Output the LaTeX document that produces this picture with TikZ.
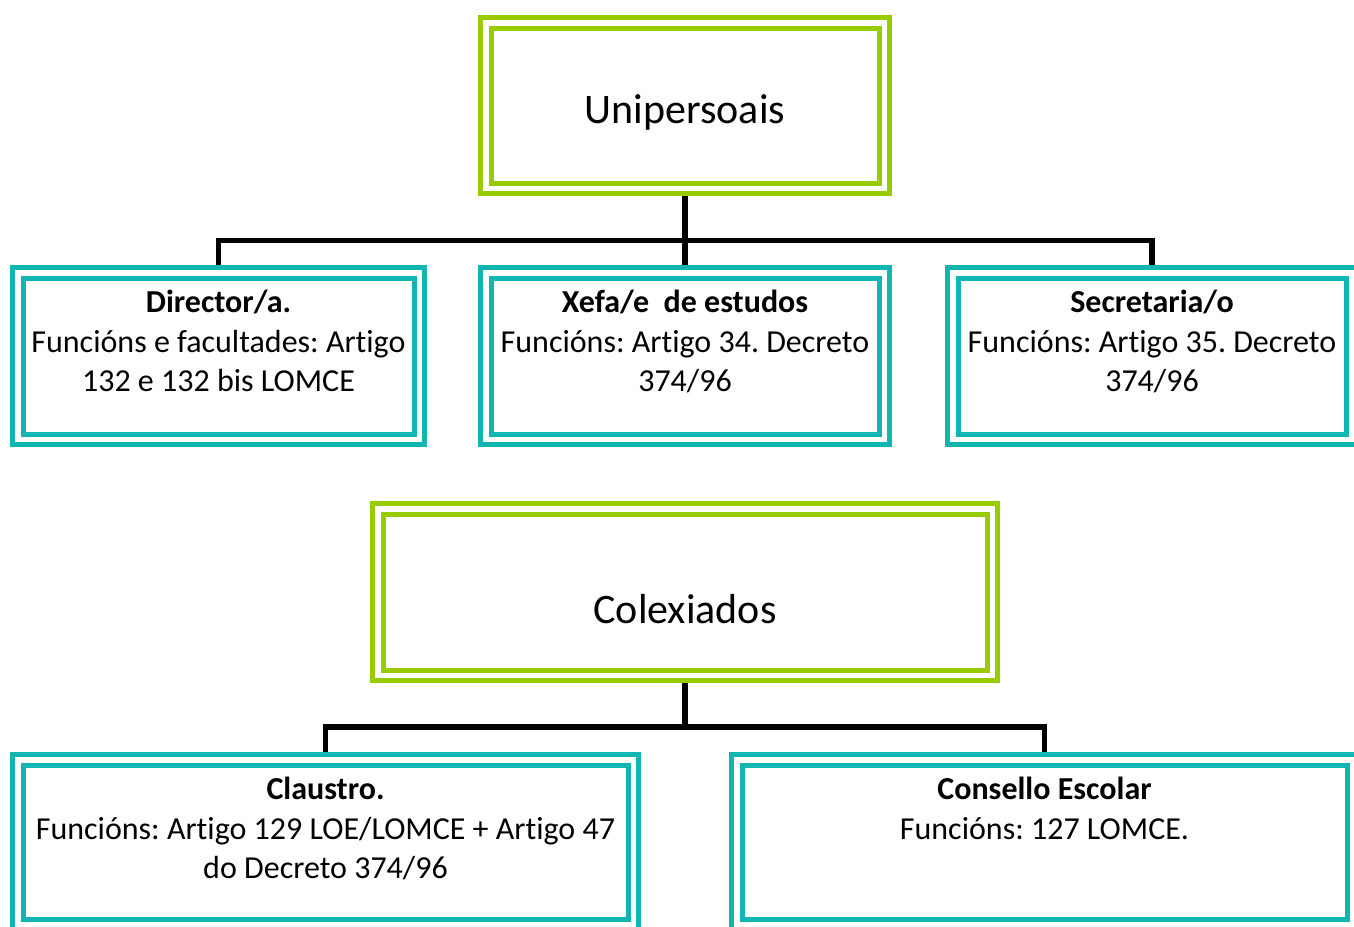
\documentclass[tikz,border=0pt]{standalone}
\usepackage{fontspec}
\setmainfont{Carlito}[Ligatures=NoCommon]
\usetikzlibrary{positioning}
\definecolor{lineGreen}{HTML}{99CC00}
\definecolor{lineTeal}{HTML}{12B6B0}

\begin{document}
\frenchspacing
\begin{tikzpicture}[
    x=1pt, y=-1pt,
    box/.style={
        draw, double=white, double distance=5.5pt, line width=5pt,
        inner sep=0pt, outer sep=7.75pt
    },
    headBox/.style={box, draw=lineGreen, minimum height=165.5pt},
    roleBox/.style={box, draw=lineTeal, minimum height=166.5pt},
    headText/.style={font=\fontsize{42}{50}\selectfont, anchor=base},
    roleText/.style={align=center, inner sep=0pt, font=\fontsize{32}{39.5}\selectfont},
    link/.style={line width=5.5pt}
]

\useasboundingbox (0,0) rectangle (1354,926);

\node[headBox, minimum width=398.5pt] (uni) at (685,105.5) {};
\node[roleBox, minimum width=401.5pt] (dir) at (218.5,356) {};
\node[roleBox, minimum width=398.5pt] (xefa) at (685,356) {};
\node[roleBox, minimum width=398.5pt] (sec) at (1152,356) {};

\node[headBox, minimum width=614.5pt, minimum height=166.5pt] (colex) at (685,592) {};
\node[roleBox, minimum width=615.5pt, minimum height=165pt] (claus) at (325.5,842.25) {};
\node[roleBox, minimum width=615.5pt, minimum height=165pt] (cons) at (1044.5,842.25) {};

\node[headText] (uniText) at (685,123.5) {Unipersoais};
\node[headText] (colexText) at (685,623) {Colexiados};

\node[roleText, below=20pt of dir.north] (dirText) {\strut\textbf{Director/a.}\\Funcións e facultades: Artigo\\132 e 132 bis LOMCE};
\node[roleText, below=20pt of xefa.north] (xefaText) {\strut\textbf{Xefa/e~ de estudos}\\Funcións: Artigo 34. Decreto\\374/96};
\node[roleText, below=20pt of sec.north] (secText) {\strut\textbf{Secretaria/o}\\Funcións: Artigo 35. Decreto\\374/96};
\node[roleText, below=20pt of claus.north] (clausText) {\strut\textbf{Claustro.}\\Funcións: Artigo 129 LOE/LOMCE + Artigo 47\\do Decreto 374/96};
\node[roleText, below=20pt of cons.north] (consText) {\strut\textbf{Consello Escolar}\\Funcións: 127 LOMCE.};

\coordinate (topBus) at (685,240.5);
\draw[link] (uni) -- (xefa);
\draw[link] (dir.north) |- (topBus) -| (sec.north);

\coordinate (lowBus) at (685,727);
\draw[link] (colex.south) -- (lowBus);
\draw[link] (claus.north) |- (lowBus) -| (cons.north);

\end{tikzpicture}
\end{document}
